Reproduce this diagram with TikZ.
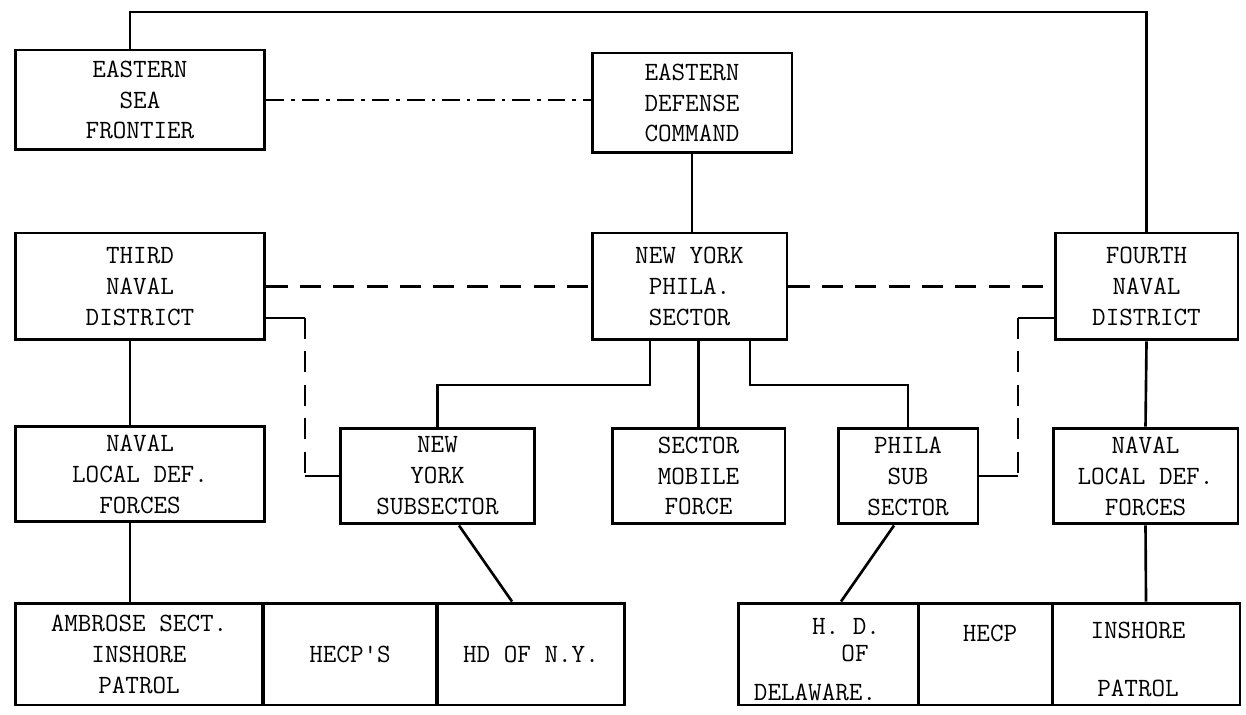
\documentclass[tikz,border=0pt]{standalone}
\usepackage{tikz}
\usetikzlibrary{positioning}
\newcommand{\chartfont}{\fontsize{15}{17.6}\selectfont\ttfamily}
\pgfdeclarelayer{nodelayer}
\pgfdeclarelayer{edgelayer}
\pgfsetlayers{edgelayer,nodelayer,main}
\tikzstyle{none}=[inner sep=0pt, font=\chartfont]
\tikzset{unit/.style={draw=black, line width=1.7pt, fill=white, align=center, inner sep=0pt, font=\chartfont}}
\tikzset{link/.style={line width=1.5pt}}
\tikzset{dashlink/.style={line width=1.5pt, dash pattern=on 12pt off 7pt}}
\tikzset{dotlink/.style={line width=1.5pt, dash pattern=on 10pt off 4pt on 2pt off 4pt}}

\begin{document}
\begin{tikzpicture}[x=0.02cm, y=-0.02cm]
        \useasboundingbox (0,0) rectangle (1246,715);
        \begin{pgfonlayer}{nodelayer}
            \node [style=unit, minimum width=5cm, minimum height=2cm] (0) at (140, 100) {EASTERN\\SEA\\FRONTIER};
            \node [style=unit, minimum width=4cm, minimum height=2cm] (1) at (692, 103) {EASTERN\\DEFENSE\\COMMAND};
            \node [style=unit, minimum width=5cm, minimum height=2.14cm] (2) at (140, 286.5) {THIRD\\NAVAL\\DISTRICT};
            \node [style=unit, minimum width=3.9cm, minimum height=2.14cm] (3) at (689.5, 286.5) {NEW YORK\\PHILA.\\SECTOR};
            \node [style=unit, minimum width=3.66cm, minimum height=2.14cm] (4) at (1146.5, 286.5) {FOURTH\\NAVAL\\DISTRICT};
            \node [style=unit, minimum width=5cm, minimum height=1.92cm] (5) at (140, 474) {NAVAL\\LOCAL DEF.\\FORCES};
            \node [style=unit, minimum width=3.9cm, minimum height=1.92cm] (6) at (437.5, 476) {NEW\\YORK\\SUBSECTOR};
            \node [style=unit, minimum width=3.46cm, minimum height=1.92cm] (7) at (698.5, 476) {SECTOR\\MOBILE\\FORCE};
            \node [style=unit, minimum width=2.8cm, minimum height=1.92cm] (8) at (908, 476) {PHILA\\SUB\\SECTOR};
            \node [style=unit, minimum width=3.7cm, minimum height=1.92cm] (9) at (1145.5, 476) {NAVAL\\LOCAL DEF.\\FORCES};
            % bottom row, left group
            \node [style=unit, minimum width=4.96cm, minimum height=2.04cm] (10) at (139, 654) {AMBROSE SECT.\\INSHORE\\PATROL};
            \node [style=unit, minimum width=3.48cm, minimum height=2.04cm] (11) at (350, 654) {HECP'S};
            \node [style=unit, minimum width=3.76cm, minimum height=2.04cm] (12) at (531, 654) {HD OF N.Y.};
            % bottom row, right group
            \node [style=unit, minimum width=3.6cm, minimum height=2.04cm] (13) at (828, 654) {};
            \node [style=unit, minimum width=2.68cm, minimum height=2.04cm] (14) at (985, 654) {};
            \node [style=unit, minimum width=3.76cm, minimum height=2.04cm] (15) at (1146, 654) {};
            \node [style=none] (16) at (846, 626) {H. D.};
            \node [style=none] (17) at (855, 653) {OF};
            \node [style=none] (18) at (815, 692) {DELAWARE.};
            \node [style=none] (19) at (990, 633) {HECP};
            \node [style=none] (20) at (1138, 630) {INSHORE};
            \node [style=none] (21) at (1138, 688) {PATROL};
        \end{pgfonlayer}
        \coordinate (c1) at (130, 0);
        \coordinate (top) at (0, 12);
        \coordinate (d1) at (305, 318);
        \coordinate (d2) at (1018, 318);
        \coordinate (b1) at (650, 385);
        \coordinate (b2) at (750, 385);
        \coordinate (s1) at (459, 0);
        \coordinate (s2) at (512, 0);
        \coordinate (s3) at (894, 0);
        \coordinate (s4) at (841, 0);
        \begin{pgfonlayer}{edgelayer}
            \draw [style=link] (c1 |- 0.north) to (c1 |- top) to (top -| 4.north) to (4.north);
            \draw [style=dotlink] (0.east) to (0.east -| 1.west);
            \draw [style=link] (1.south) to (1.south |- 3.north);
            \draw [style=dashlink] (2.east) to (3.west);
            \draw [style=dashlink] (3.east) to (4.west);
            % dashed ties down to the subsectors
            \draw [style=link] (d1 -| 2.east) to (d1);
            \draw [style=dashlink] (d1) to (d1 |- 6.west);
            \draw [style=link] (d1 |- 6.west) to (6.west);
            \draw [style=link] (d2 -| 4.west) to (d2);
            \draw [style=dashlink] (d2) to (d2 |- 8.east);
            \draw [style=link] (d2 |- 8.east) to (8.east);
            \draw [style=link] (b1 |- 3.south) to (b1) -| (6.north);
            \draw [style=link] (7.north |- 3.south) to (7.north);
            \draw [style=link] (b2 |- 3.south) to (b2) -| (8.north);
            \draw [style=link] (c1 |- 2.south) to (c1 |- 5.north);
            \draw [style=link] (c1 |- 5.south) to (c1 |- 10.north);
            \draw [style=link] (4.south) to (9.north);
            \draw [style=link] (9.south) to (15.north);
            \draw [style=link] (s1 |- 6.south) to (s2 |- 12.north);
            \draw [style=link] (s3 |- 8.south) to (s4 |- 13.north);
        \end{pgfonlayer}
    \end{tikzpicture}
\end{document}
